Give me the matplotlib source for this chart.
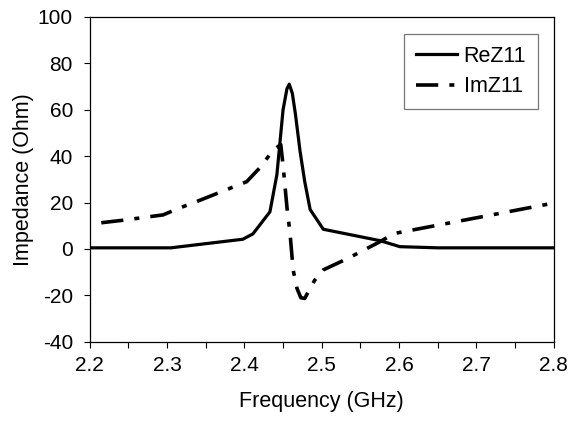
import matplotlib
matplotlib.use("Agg")
import matplotlib.pyplot as plt
from matplotlib.ticker import MultipleLocator

plt.rcParams["font.family"] = ["Liberation Sans", "DejaVu Sans"]
plt.rcParams["lines.scale_dashes"] = False

# ReZ11 trace (GHz, Ohm)
re_freq = [2.20, 2.305, 2.398, 2.411, 2.433, 2.442, 2.450, 2.455, 2.458,
           2.462, 2.466, 2.472, 2.478, 2.485, 2.502, 2.575, 2.601, 2.65, 2.80]
re_z = [0.5, 0.5, 4.2, 6.5, 16.0, 32.0, 60.0, 69.0, 71.0,
        67.0, 58.0, 42.0, 29.0, 17.0, 8.5, 3.6, 1.0, 0.5, 0.5]

# ImZ11 trace
im_freq = [2.215, 2.246, 2.295, 2.315, 2.338, 2.403, 2.420, 2.437, 2.447,
           2.450, 2.455, 2.459, 2.463, 2.468, 2.473, 2.478, 2.484, 2.491,
           2.502, 2.534, 2.575, 2.594, 2.80]
im_z = [11.3, 12.5, 14.7, 17.5, 20.4, 29.0, 35.0, 42.5, 45.0,
        36.0, 18.0, 6.8, -9.0, -17.0, -21.0, -21.3, -17.5, -13.4,
        -9.0, -4.0, 3.1, 6.7, 19.8]

fig = plt.figure(figsize=(5.71, 4.21), dpi=100)
ax = fig.add_axes([0.157, 0.188, 0.813, 0.772])

ax.plot(re_freq, re_z, color="black", lw=2.3, label="ReZ11")
ax.plot(im_freq, im_z, color="black", lw=2.6, dashes=(16, 8, 3.6, 8),
        label="ImZ11")

ax.set_xlim(2.2, 2.8)
ax.set_ylim(-40, 100)
ax.xaxis.set_major_locator(MultipleLocator(0.1))
ax.xaxis.set_minor_locator(MultipleLocator(0.05))
ax.yaxis.set_major_locator(MultipleLocator(20))
ax.tick_params(axis="both", which="both", direction="out", length=4,
               width=0.8, labelsize=15, pad=6)
ax.tick_params(axis="y", which="minor", left=False)
ax.tick_params(axis="y", pad=8)
ax.set_xticklabels([f"{v:.1f}" for v in ax.get_xticks()])
ax.set_yticklabels([f"{v:.0f}" for v in ax.get_yticks()])

for s in ax.spines.values():
    s.set_linewidth(0.9)

ax.set_xlabel("Frequency (GHz)", fontsize=15.5, labelpad=12)
ax.set_ylabel("Impedance (Ohm)", fontsize=15.5, labelpad=3)

leg = ax.legend(loc="upper right", bbox_to_anchor=(0.9655, 0.9477),
                borderaxespad=0, fancybox=False, fontsize=15.5,
                handlelength=1.9, handletextpad=0.3, borderpad=0.55,
                labelspacing=0.45, edgecolor="#555555")
leg.get_frame().set_linewidth(0.9)

fig.savefig("out.png", dpi=100)
